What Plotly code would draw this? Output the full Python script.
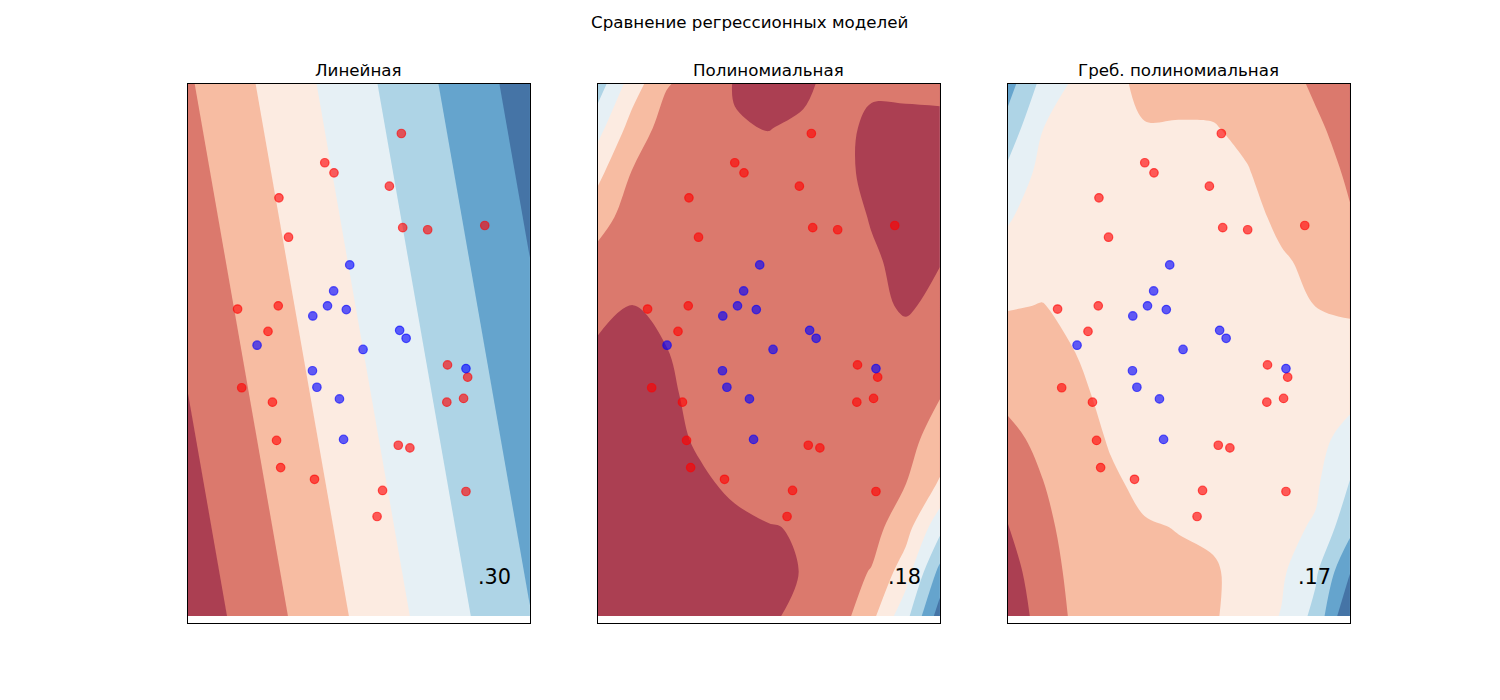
import plotly.graph_objects as go

# точки выборки (одинаковые на всех трёх панелях)
red_x = [6.24, 4.00, 4.27, 5.89, 2.66, 6.28, 7.01, 8.68, 2.94, 1.45, 2.64, 2.34, 7.59,
         8.18, 1.57, 2.47, 7.57, 8.06, 2.59, 6.15, 6.49, 2.71, 3.70, 5.69, 8.13, 5.53]
red_y = [9.07, 8.52, 8.33, 8.08, 7.86, 7.30, 7.26, 7.34, 7.12, 5.77, 5.83, 5.35, 4.72,
         4.49, 4.29, 4.02, 4.02, 4.09, 3.30, 3.21, 3.16, 2.79, 2.57, 2.36, 2.34, 1.87]
blue_x = [4.73, 4.26, 4.08, 4.63, 3.65, 6.19, 6.38, 2.02, 5.12, 3.64, 8.13, 3.77, 4.43, 4.55]
blue_y = [6.60, 6.11, 5.83, 5.76, 5.64, 5.37, 5.22, 5.09, 5.01, 4.61, 4.65, 4.30, 4.08, 3.32]

titles = ["Линейная", "Полиномиальная", "Греб. полиномиальная"]
scores = [".30", ".18", ".17"]

# цвета полос (RdBu, alpha .8 на белом)
band_colors = ["#AB3F52", "#DB796D", "#F7BCA2", "#FCEBE1",
               "#E6F0F5", "#AED4E6", "#65A4CD", "#4574A6"]

# линейная модель: значения в углах сетки
lin_x = [0, 10]
lin_y = [0, 10]
lin_z = [[0.36, 5.97],
         [1.89, 7.50]]

# сетка для полиномиальных моделей (строки сверху вниз)
grid_x = [0, 1, 2, 3, 4, 5, 6, 7, 8, 9, 10]
grid_y = [10, 9.167, 8.333, 7.5, 6.667, 5.833, 5, 4.167, 3.333, 2.5, 1.667, 0.833, 0]

poly_z = [
    [5.5, 3.5, 2.07, 1.6, 0.95, 0.7, 0.8, 1.35, 1.15, 1.2, 1.2],
    [4.33, 2.6, 1.6, 1.4, 1.05, 0.98, 1.15, 1.3, 0.8, 0.75, 0.8],
    [3.24, 1.95, 1.5, 1.45, 1.35, 1.3, 1.35, 1.3, 0.75, 0.6, 0.7],
    [2.42, 1.55, 1.5, 1.5, 1.45, 1.45, 1.45, 1.35, 0.95, 0.6, 0.75],
    [1.65, 1.4, 1.5, 1.55, 1.55, 1.55, 1.5, 1.4, 1.1, 0.8, 0.97],
    [1.2, 0.98, 1.2, 1.5, 1.6, 1.6, 1.55, 1.45, 1.2, 0.9, 1.2],
    [0.9, 0.8, 0.98, 1.4, 1.6, 1.65, 1.6, 1.5, 1.4, 1.3, 1.45],
    [0.75, 0.75, 0.85, 1.25, 1.5, 1.6, 1.6, 1.55, 1.5, 1.5, 1.95],
    [0.65, 0.7, 0.8, 1.1, 1.3, 1.5, 1.55, 1.55, 1.5, 1.7, 2.4],
    [0.55, 0.6, 0.7, 0.9, 1.13, 1.3, 1.4, 1.5, 1.55, 1.98, 3.1],
    [0.5, 0.5, 0.6, 0.7, 0.85, 0.97, 1.05, 1.4, 1.65, 2.59, 4.7],
    [0.5, 0.45, 0.55, 0.65, 0.7, 0.8, 1.03, 1.6, 2.05, 3.53, 6.3],
    [0.6, 0.5, 0.55, 0.7, 0.75, 0.85, 1.27, 1.5, 2.74, 4.67, 7.5],
]

ridge_z = [
    [6.4, 4.73, 3.77, 3.23, 2.8, 2.75, 2.7, 2.55, 2.25, 1.9, 1.6],
    [5.6, 4.02, 3.6, 3.35, 3.04, 3.06, 3.05, 2.8, 2.45, 2.1, 1.75],
    [4.77, 3.7, 3.5, 3.45, 3.3, 3.3, 3.3, 3.05, 2.6, 2.3, 1.9],
    [4.1, 3.5, 3.4, 3.5, 3.45, 3.5, 3.5, 3.35, 2.75, 2.5, 2.05],
    [3.6, 3.25, 3.3, 3.5, 3.55, 3.6, 3.65, 3.55, 3.12, 2.75, 2.35],
    [3.05, 2.98, 3.15, 3.45, 3.6, 3.65, 3.75, 3.65, 3.4, 2.99, 2.85],
    [2.63, 2.7, 3.02, 3.35, 3.55, 3.65, 3.75, 3.7, 3.55, 3.3, 3.36],
    [2.2, 2.45, 2.85, 3.2, 3.45, 3.6, 3.7, 3.7, 3.6, 3.6, 3.75],
    [1.79, 2.2, 2.7, 3.06, 3.3, 3.5, 3.6, 3.65, 3.6, 3.75, 4.3],
    [1.38, 1.97, 2.55, 2.9, 3.15, 3.35, 3.45, 3.6, 3.65, 3.85, 5.05],
    [0.97, 1.75, 2.4, 2.75, 2.95, 3.02, 3.25, 3.55, 3.75, 4.1, 5.7],
    [0.6, 1.55, 2.3, 2.6, 2.8, 2.9, 2.85, 3.5, 3.85, 4.85, 6.95],
    [0.3, 1.4, 2.2, 2.5, 2.7, 2.85, 2.9, 3.45, 4.05, 5.3, 8.0],
]

W, H = 1500, 700
PAD = 8  # отступ body у страницы, компенсируем

def px_x(px):
    return (px - PAD) / W

def px_y(py):
    return 1 - (py - PAD) / H

colorscale = [[i / 7, c] for i, c in enumerate(band_colors)]
lefts = [188, 598, 1008]
ax_w = 341.9
fields = [(lin_x, lin_y, lin_z, 0),
          (grid_x, grid_y[::-1], poly_z[::-1], 1.0),
          (grid_x, grid_y[::-1], ridge_z[::-1], 1.0)]

FONT = "DejaVu Sans"
fig = go.Figure()
annotations = []

for i, (gx, gy, gz, smooth) in enumerate(fields):
    xa = "x" if i == 0 else "x%d" % (i + 1)
    ya = "y" if i == 0 else "y%d" % (i + 1)
    fig.add_trace(go.Contour(
        x=gx, y=gy, z=gz, xaxis=xa, yaxis=ya,
        autocontour=False,
        contours=dict(start=1, end=7, size=1, coloring="fill", showlines=False),
        line=dict(width=0, smoothing=smooth),
        colorscale=colorscale, showscale=False, hoverinfo="skip"))
    fig.add_trace(go.Scatter(
        x=red_x, y=red_y, xaxis=xa, yaxis=ya, mode="markers",
        marker=dict(size=8.5, color="rgba(255,0,0,0.62)",
                    line=dict(width=1.2, color="rgba(255,0,0,0.62)")),
        hoverinfo="skip"))
    fig.add_trace(go.Scatter(
        x=blue_x, y=blue_y, xaxis=xa, yaxis=ya, mode="markers",
        marker=dict(size=8.5, color="rgba(0,0,255,0.62)",
                    line=dict(width=1.2, color="rgba(0,0,255,0.62)")),
        hoverinfo="skip"))

    ax = dict(showticklabels=False, ticks="", showgrid=False, zeroline=False,
              showline=True, mirror=True, linecolor="black", linewidth=1)
    L = lefts[i]
    fig.layout[("xaxis" if i == 0 else "xaxis%d" % (i + 1))] = dict(
        ax, domain=[px_x(L), px_x(L + ax_w)], range=[0, 10], anchor=ya)
    fig.layout[("yaxis" if i == 0 else "yaxis%d" % (i + 1))] = dict(
        ax, domain=[px_y(623), px_y(84)], range=[-0.1316, 10], anchor=xa)

    annotations.append(dict(
        text=titles[i], x=px_x(L + ax_w / 2), y=px_y(70),
        xref="paper", yref="paper", xanchor="center", yanchor="middle",
        showarrow=False, font=dict(family=FONT, size=16.7, color="black")))
    annotations.append(dict(
        text=scores[i], x=9.5, y=0.735, xref=xa, yref=ya,
        xanchor="right", yanchor="middle", showarrow=False,
        font=dict(family=FONT, size=20.8, color="black")))

annotations.append(dict(
    text="Сравнение регрессионных моделей", x=px_x(749.5), y=px_y(22),
    xref="paper", yref="paper", xanchor="center", yanchor="middle",
    showarrow=False, font=dict(family=FONT, size=16.7, color="black")))

fig.update_layout(width=W, height=H, margin=dict(l=0, r=0, t=0, b=0),
                  paper_bgcolor="white", plot_bgcolor="white",
                  showlegend=False, annotations=annotations)

fig.write_html("out.html")
